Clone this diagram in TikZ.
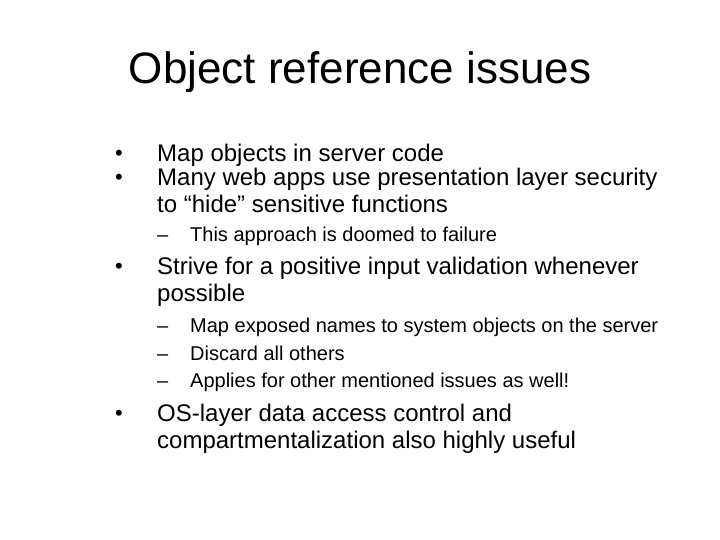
\documentclass[tikz,border=0pt]{standalone}
\usepackage{fontspec}
\setmainfont{Liberation Sans}
\begin{document}
\begin{tikzpicture}[x=1pt,y=-1pt,
    txt/.style={anchor=base west,inner sep=0pt,font=\fontsize{24}{28}\selectfont},
    bul/.style={anchor=base west,inner sep=0pt,font=\fontsize{22}{26}\selectfont},
    subtxt/.style={anchor=base west,inner sep=0pt,font=\fontsize{20}{24}\selectfont}]

    \useasboundingbox (0,0) rectangle (720,540);

    \node[anchor=base,inner sep=0pt,font=\fontsize{44}{52}\selectfont] (title) at (360,84) {Object reference issues};

    \node[bul] (b1) at (115,161) {\textbullet};
    \node[txt] (l1) at (157,162) {Map objects in server code};
    \node[bul] (b2) at (115,185) {\textbullet};
    \node[txt] (l2) at (157,186) {Many web apps use presentation layer security};
    \node[txt] (l3) at (157,212) {to “hide” sensitive functions};
    \node[subtxt] (d1) at (157,241) {–};
    \node[subtxt] (s1) at (190,241) {This approach is doomed to failure};

    \node[bul] (b3) at (115,273) {\textbullet};
    \node[txt] (l4) at (157,274) {Strive for a positive input validation whenever};
    \node[txt] (l5) at (157,301) {possible};
    \node[subtxt] (d2) at (157,332) {–};
    \node[subtxt] (s2) at (190,332) {Map exposed names to system objects on the server};
    \node[subtxt] (d3) at (157,360) {–};
    \node[subtxt] (s3) at (190,360) {Discard all others};
    \node[subtxt] (d4) at (157,387) {–};
    \node[subtxt] (s4) at (190,387) {Applies for other mentioned issues as well!};

    \node[bul] (b4) at (115,420) {\textbullet};
    \node[txt] (l6) at (157,421) {OS-layer data access control and};
    \node[txt] (l7) at (157,448) {compartmentalization also highly useful};

\end{tikzpicture}
\end{document}
